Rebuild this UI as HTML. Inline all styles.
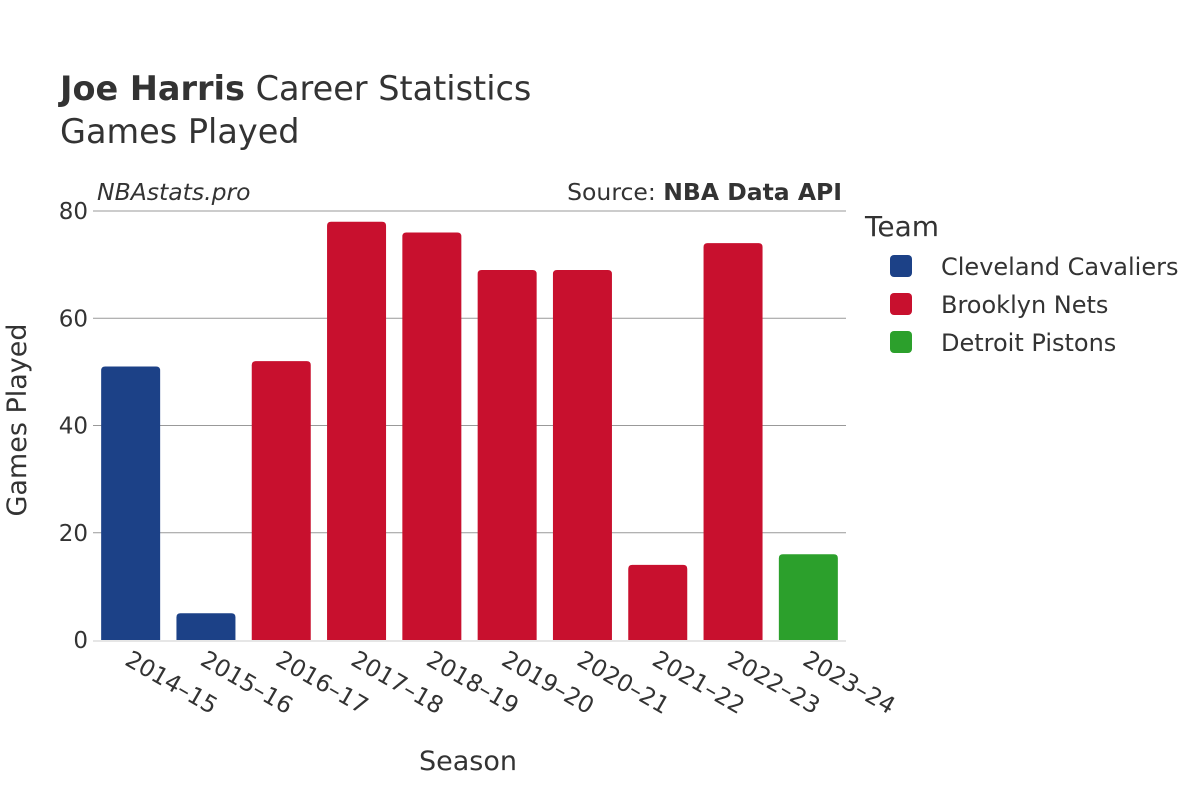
<!DOCTYPE html>
<html><head><meta charset="utf-8"><style>
body{margin:0;background:#fff;}
text{font-family:"DejaVu Sans","Liberation Sans",sans-serif;fill:#333;}
</style></head><body>
<svg id="chart" width="1200" height="800" xmlns="http://www.w3.org/2000/svg">
<text x="60" y="100" font-size="33.5"><tspan font-weight="bold">Joe Harris</tspan> Career Statistics</text>
<text x="60" y="143" font-size="33.5">Games Played</text>
<text x="97" y="200" font-size="23.5" font-style="italic">NBAstats.pro</text>
<text x="842" y="200" font-size="23.5" text-anchor="end">Source: <tspan font-weight="bold">NBA Data API</tspan></text>
<g id="grid"></g>
<g id="bars"></g>
<g id="xlabels"></g>
<text transform="translate(26,420) rotate(-90)" font-size="27" text-anchor="middle">Games Played</text>
<text x="468" y="770" font-size="27" text-anchor="middle">Season</text>
<g>
<text x="865" y="236" font-size="28">Team</text>
<rect x="890" y="255" width="22" height="22" rx="4" fill="#1c4187"/>
<text x="941" y="275" font-size="24">Cleveland Cavaliers</text>
<rect x="890" y="293" width="22" height="22" rx="4" fill="#c8102e"/>
<text x="941" y="313" font-size="24">Brooklyn Nets</text>
<rect x="890" y="331" width="22" height="22" rx="4" fill="#2ca02c"/>
<text x="941" y="351" font-size="24">Detroit Pistons</text>
</g>
</svg>
<script>
const seasons=["2014–15","2015–16","2016–17","2017–18","2018–19","2019–20","2020–21","2021–22","2022–23","2023–24"];
const games=[51,5,52,78,76,69,69,14,74,16];
const teams=["CLE","CLE","BKN","BKN","BKN","BKN","BKN","BKN","BKN","DET"];
const yTicks=[0,20,40,60,80];
const colors={CLE:"#1c4187",BKN:"#c8102e",DET:"#2ca02c"};
const NS="http://www.w3.org/2000/svg";
const x0=93,x1=846,yBase=640,yTop=211,yMax=80;
const step=(x1-x0)/seasons.length,bw=59;
const y=v=>yBase-(yBase-yTop)*v/yMax;
const xc=i=>x0+step*(i+0.5);
const grid=document.getElementById('grid');
yTicks.forEach(t=>{
 if(t>0){const l=document.createElementNS(NS,'line');
 l.setAttribute('x1',x0);l.setAttribute('x2',x1);l.setAttribute('y1',y(t));l.setAttribute('y2',y(t));
 l.setAttribute('stroke','#999');l.setAttribute('stroke-width','1');
 
 
 grid.appendChild(l);}
 const tx=document.createElementNS(NS,'text');
 tx.setAttribute('x',88);tx.setAttribute('y',y(t)+8);tx.setAttribute('text-anchor','end');tx.setAttribute('font-size','23');
 tx.textContent=t;
 
 
 grid.appendChild(tx);
});
const base=document.createElementNS(NS,'line');
base.setAttribute('x1',x0);base.setAttribute('x2',x1);base.setAttribute('y1',641);base.setAttribute('y2',641);
base.setAttribute('stroke','#e6e6e6');base.setAttribute('stroke-width','2');


grid.appendChild(base);
const bars=document.getElementById('bars'),xl=document.getElementById('xlabels');
games.forEach((v,i)=>{
 const top=y(v),h=yBase-top,r=Math.min(4,h/2),l=xc(i)-bw/2,rr=l+bw;
 const p=document.createElementNS(NS,'path');
 p.setAttribute('d',`M${l},${yBase}V${top+r}Q${l},${top} ${l+r},${top}H${rr-r}Q${rr},${top} ${rr},${top+r}V${yBase}Z`);
 p.setAttribute('fill',colors[teams[i]]);
 
 
 bars.appendChild(p);
 const t=document.createElementNS(NS,'text');
 const tx=xc(i)-7,ty=664;
 t.setAttribute('x',tx);t.setAttribute('y',ty);t.setAttribute('font-size','23.5');
 t.setAttribute('transform',`rotate(30 ${tx} ${ty})`);
 t.textContent=seasons[i];
 
 
 xl.appendChild(t);
});
</script>
</body></html>
